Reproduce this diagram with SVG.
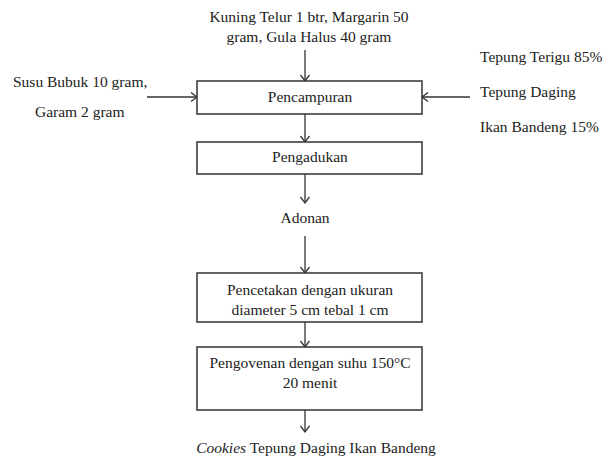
<svg xmlns="http://www.w3.org/2000/svg" width="608" height="466" viewBox="0 0 608 466">
<style>
text{font-family:"Liberation Serif","Times New Roman",serif;font-size:15.5px;fill:#222}
.c{text-anchor:middle}
.box{fill:#fff;stroke:#333;stroke-width:1.5}
.ln{stroke:#333;stroke-width:1.3;fill:none;marker-end:url(#ah)}
</style>
<defs>
<marker id="ah" markerUnits="userSpaceOnUse" markerWidth="12" markerHeight="12" refX="10" refY="6" orient="auto">
<path d="M4,1.5 L10,6 L4,10.5" fill="none" stroke="#333" stroke-width="1.3"/>
</marker>
</defs>
<rect width="608" height="466" fill="#fff"/>
<g id="connectors">
<line class="ln" x1="305" y1="50" x2="305" y2="81"/>
<line class="ln" x1="147" y1="97" x2="197" y2="97"/>
<line class="ln" x1="470" y1="97" x2="422" y2="97"/>
<line class="ln" x1="305" y1="114" x2="305" y2="142"/>
<line class="ln" x1="305" y1="174" x2="305" y2="203"/>
<line class="ln" x1="305" y1="236" x2="305" y2="273"/>
<line class="ln" x1="305" y1="322" x2="305" y2="347"/>
<line class="ln" x1="305" y1="410" x2="305" y2="432"/>
</g>
<g id="input-top">
<text class="c" x="309" y="22">Kuning Telur 1 btr, Margarin 50</text>
<text class="c" x="309" y="42">gram, Gula Halus 40 gram</text>
</g>
<g id="input-left">
<text x="13" y="87">Susu Bubuk 10 gram,</text>
<text x="35" y="117">Garam 2 gram</text>
</g>
<g id="input-right">
<text x="480" y="62">Tepung Terigu 85%</text>
<text x="480" y="97">Tepung Daging</text>
<text x="480" y="132">Ikan Bandeng 15%</text>
</g>
<g id="pencampuran">
<rect class="box" x="197" y="81" width="225" height="33"/>
<text class="c" x="310" y="102">Pencampuran</text>
</g>
<g id="pengadukan">
<rect class="box" x="197" y="142" width="225" height="32"/>
<text class="c" x="310" y="162">Pengadukan</text>
</g>
<g id="adonan">
<text class="c" x="305" y="223">Adonan</text>
</g>
<g id="pencetakan">
<rect class="box" x="197" y="273" width="225" height="49"/>
<text class="c" x="310" y="295">Pencetakan dengan ukuran</text>
<text class="c" x="310" y="315">diameter 5 cm tebal 1 cm</text>
</g>
<g id="pengovenan">
<rect class="box" x="197" y="347" width="225" height="63"/>
<text class="c" x="310" y="368">Pengovenan dengan suhu 150°C</text>
<text class="c" x="310" y="388">20 menit</text>
</g>
<g id="cookies">
<text class="c" x="316" y="453"><tspan font-style="italic">Cookies</tspan> Tepung Daging Ikan Bandeng</text>
</g>
</svg>
